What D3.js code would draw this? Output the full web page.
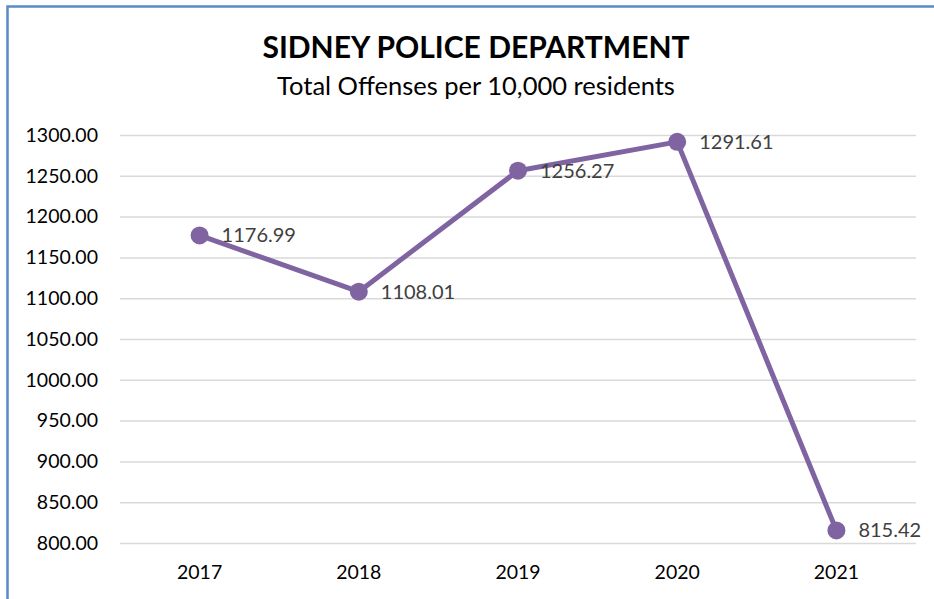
<!DOCTYPE html>
<html>
<head>
<meta charset="utf-8">
<script src="https://cdn.jsdelivr.net/npm/d3@7"></script>
<style>
  body { margin: 0; background: #fff; }
  svg { display: block; font-family: Lato, "Open Sans", sans-serif; }
</style>
</head>
<body>
<svg id="chart"></svg>
<script>
// Chart data
const years = ['2017', '2018', '2019', '2020', '2021'];
const offenses = [1176.99, 1108.01, 1256.27, 1291.61, 815.42];
const yTicks = [800, 850, 900, 950, 1000, 1050, 1100, 1150, 1200, 1250, 1300];

const width = 934;
const height = 599;
const margin = { top: 135, right: 18, bottom: 56, left: 120 };

const svg = d3.select('#chart')
    .attr('width', width)
    .attr('height', height);

// Chart frame (only top/left edges visible in the crop)
svg.append('path')
    .attr('d', `M7.5,${height + 5} V6.5 H${width + 5}`)
    .attr('fill', 'none')
    .attr('stroke', '#5b8ac6')
    .attr('stroke-width', 2.5);

// Scales
const xScale = d3.scaleBand()
    .domain(years)
    .range([margin.left, width - margin.right]);

const yScale = d3.scaleLinear()
    .domain([800, 1300])
    .range([height - margin.bottom, margin.top]);

// Gridlines + y labels
const yAxis = d3.axisLeft(yScale)
    .tickValues(yTicks)
    .tickSize(-(width - margin.left - margin.right))
    .tickPadding(22)
    .tickFormat(d3.format('.2f'));

const gy = svg.append('g')
    .attr('transform', `translate(${margin.left}, 0)`)
    .call(yAxis);
gy.select('.domain').remove();
gy.selectAll('line').attr('stroke', '#d9d9d9').attr('stroke-width', 1.5);
gy.selectAll('text')
    .attr('font-size', '19.5px')
    .attr('fill', '#000')
    .style('font-family', 'Lato, sans-serif');

// X labels
const xAxis = d3.axisBottom(xScale).tickSize(0).tickPadding(22);
const gx = svg.append('g')
    .attr('transform', `translate(0, ${height - margin.bottom})`)
    .call(xAxis);
gx.select('.domain').remove();
gx.selectAll('text')
    .attr('font-size', '19.5px')
    .attr('fill', '#000')
    .style('font-family', 'Lato, sans-serif');

// Title
svg.append('text')
    .attr('x', 476)
    .attr('y', 58)
    .attr('text-anchor', 'middle')
    .attr('font-size', '30px')
    .attr('font-weight', 'bold')
    .attr('fill', '#000')
    .text('SIDNEY POLICE DEPARTMENT');

svg.append('text')
    .attr('x', 476)
    .attr('y', 95)
    .attr('text-anchor', 'middle')
    .attr('font-size', '25.5px')
    .attr('fill', '#000')
    .text('Total Offenses per 10,000 residents');

// Line
const line = d3.line()
    .x((d, i) => xScale(years[i]) + xScale.bandwidth() / 2)
    .y(d => yScale(d));

svg.append('path')
    .datum(offenses)
    .attr('fill', 'none')
    .attr('stroke', '#8064a2')
    .attr('stroke-width', 5)
    .attr('stroke-linejoin', 'round')
    .attr('d', line);

svg.selectAll('.dot')
    .data(offenses)
    .enter()
    .append('circle')
    .attr('class', 'dot')
    .attr('cx', (d, i) => xScale(years[i]) + xScale.bandwidth() / 2)
    .attr('cy', d => yScale(d))
    .attr('r', 9)
    .attr('fill', '#8064a2');

// Data labels
svg.selectAll('.label')
    .data(offenses)
    .enter()
    .append('text')
    .attr('class', 'label')
    .attr('x', (d, i) => xScale(years[i]) + xScale.bandwidth() / 2 + 22)
    .attr('y', d => yScale(d))
    .attr('dy', '0.35em')
    .attr('font-size', '20px')
    .attr('fill', '#404040')
    .text(d => d.toFixed(2));
</script>
</body>
</html>
